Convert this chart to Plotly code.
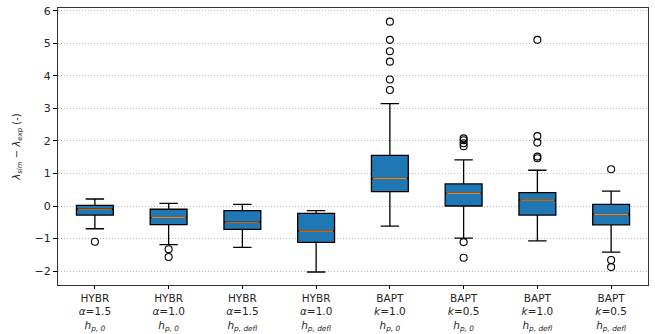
import plotly.graph_objects as go

# ---- data ----
methods = ["HYBR", "HYBR", "HYBR", "HYBR", "BAPT", "BAPT", "BAPT", "BAPT"]
params = ["<i>α</i>=1.5", "<i>α</i>=1.0", "<i>α</i>=1.5", "<i>α</i>=1.0",
          "<i>k</i>=1.0", "<i>k</i>=0.5", "<i>k</i>=1.0", "<i>k</i>=0.5"]
heights = ["<i>h</i><sub><i>p, 0</i></sub>", "<i>h</i><sub><i>p, 0</i></sub>",
           "<i>h</i><sub><i>p, defl</i></sub>", "<i>h</i><sub><i>p, defl</i></sub>",
           "<i>h</i><sub><i>p, 0</i></sub>", "<i>h</i><sub><i>p, 0</i></sub>",
           "<i>h</i><sub><i>p, defl</i></sub>", "<i>h</i><sub><i>p, defl</i></sub>"]

whisk_lo = [-0.70, -1.19, -1.27, -2.03, -0.62, -0.99, -1.07, -1.42]
q1 = [-0.28, -0.57, -0.72, -1.12, 0.44, 0.00, -0.28, -0.58]
median = [-0.10, -0.36, -0.50, -0.77, 0.85, 0.39, 0.18, -0.26]
q3 = [0.02, -0.10, -0.14, -0.23, 1.56, 0.68, 0.41, 0.05]
whisk_hi = [0.215, 0.08, 0.05, -0.14, 3.15, 1.42, 1.10, 0.46]

outliers = [
    [-1.10],
    [-1.33, -1.57],
    [],
    [],
    [5.67, 5.11, 4.76, 4.44, 3.89, 3.57],
    [2.08, 2.02, 1.93, 1.84, -1.11, -1.59],
    [5.11, 2.15, 1.95, 1.52, 1.47],
    [1.13, -1.66, -1.88],
]

positions = list(range(1, len(methods) + 1))
ticktext = [f"{m}<br>{p}<br>{h}" for m, p, h in zip(methods, params, heights)]

BLUE = "#1f77b4"
ORANGE = "#ff7f0e"
BOX_W = 0.5

fig = go.Figure()
for i, pos in enumerate(positions):
    fig.add_trace(go.Box(
        x=[pos], q1=[q1[i]], median=[median[i]], q3=[q3[i]],
        lowerfence=[whisk_lo[i]], upperfence=[whisk_hi[i]],
        width=BOX_W, whiskerwidth=0.5,
        fillcolor=BLUE, line=dict(color="black", width=1.3),
        boxpoints=False, showlegend=False, hoverinfo="skip",
    ))
    # orange median line on top
    fig.add_shape(type="line", xref="x", yref="y",
                  x0=pos - BOX_W / 2 + 0.02, x1=pos + BOX_W / 2 - 0.02,
                  y0=median[i], y1=median[i],
                  line=dict(color=ORANGE, width=1.2), layer="above")

ox, oy = [], []
for pos, vals in zip(positions, outliers):
    ox += [pos] * len(vals)
    oy += vals
fig.add_trace(go.Scatter(
    x=ox, y=oy, mode="markers", showlegend=False, hoverinfo="skip",
    marker=dict(symbol="circle-open", size=7, color="black", line=dict(width=1.1)),
))

axis_font = dict(family="DejaVu Sans", size=11, color="#262626")
fig.update_layout(
    width=655, height=334,
    margin=dict(l=58, r=7, t=8, b=49, autoexpand=False),
    paper_bgcolor="white", plot_bgcolor="white",
    font=axis_font,
    xaxis=dict(
        range=[0.5, 8.5], tickmode="array", tickvals=positions, ticktext=ticktext,
        ticks="outside", ticklen=3, tickcolor="black", automargin=False,
        showline=True, linecolor="#333", linewidth=1, mirror=True,
        showgrid=False, zeroline=False, tickfont=dict(size=10.5),
    ),
    yaxis=dict(
        range=[-2.43, 6.09], tickmode="array", tickvals=list(range(-2, 7)),
        ticktext=[str(v).replace("-", "−") for v in range(-2, 7)],
        ticks="outside", ticklen=4, tickcolor="black", automargin=False,
        showline=True, linecolor="#333", linewidth=1, mirror=True,
        showgrid=True, gridcolor="#b8b8b8", griddash="1px,2px", gridwidth=0.8,
        zeroline=False, tickfont=dict(size=11),
        title=dict(text="<i>λ</i><sub><i>sim</i></sub> − <i>λ</i><sub><i>exp</i></sub> (-)",
                   font=dict(size=10), standoff=12),
    ),
)

fig.write_html("out.html", config={"displayModeBar": False},
               post_script="document.body.style.margin='0';")
